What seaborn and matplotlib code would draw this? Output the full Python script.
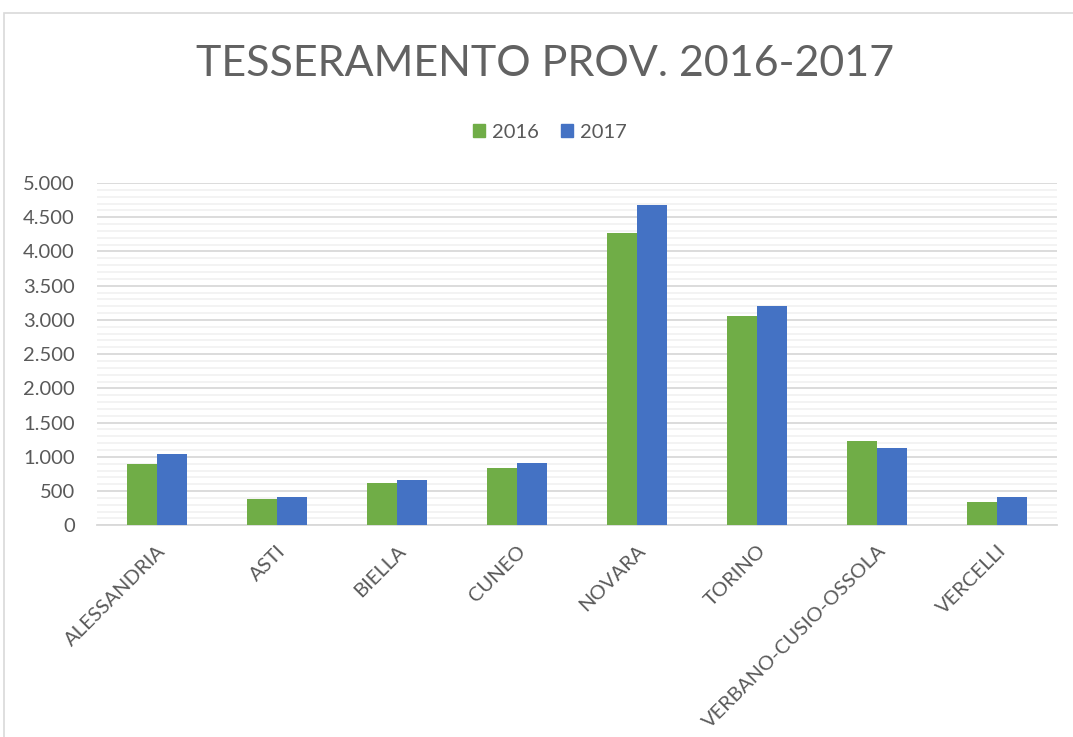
import matplotlib
matplotlib.use("Agg")
import matplotlib.pyplot as plt
import matplotlib.patches as mpatches
from matplotlib.ticker import MultipleLocator, FuncFormatter
import seaborn as sns
import pandas as pd

provinces = ["ALESSANDRIA", "ASTI", "BIELLA", "CUNEO", "NOVARA", "TORINO",
             "VERBANO-CUSIO-OSSOLA", "VERCELLI"]
values_2016 = [890, 380, 613, 832, 4276, 3059, 1226, 340]
values_2017 = [1040, 409, 657, 905, 4675, 3200, 1124, 417]
series = ["2016", "2017"]
colors = ["#70AD47", "#4472C4"]
title = "TESSERAMENTO PROV. 2016-2017"

df = pd.DataFrame({
    "Provincia": provinces * 2,
    "Anno": [series[0]] * len(provinces) + [series[1]] * len(provinces),
    "Valore": values_2016 + values_2017,
})

sns.set_theme(style="white")
plt.rcParams['font.family'] = ['Lato', 'DejaVu Sans']

text_color = "#595959"
fig = plt.figure(figsize=(10.73, 7.37), dpi=100)
ax = fig.add_axes([97 / 1073, 1 - 525.3 / 737, (1057 - 97) / 1073, (525.3 - 183) / 737])

sns.barplot(data=df, x="Provincia", y="Valore", hue="Anno", palette=colors,
            width=0.5, saturation=1, linewidth=0, ax=ax, legend=False, zorder=3)

ax.set_ylim(0, 5000)
ax.set_xlim(-0.5, len(provinces) - 0.5)
ax.yaxis.set_major_locator(MultipleLocator(500))
ax.yaxis.set_minor_locator(MultipleLocator(100))
ax.yaxis.set_major_formatter(FuncFormatter(lambda v, p: f"{int(v):,}".replace(",", ".")))
ax.grid(axis="y", which="major", color="#d9d9d9", linewidth=1.3, zorder=1)
ax.grid(axis="y", which="minor", color="#f2f2f2", linewidth=1.3, zorder=0)
ax.set_axisbelow(True)
for s in ["top", "right", "left"]:
    ax.spines[s].set_visible(False)
ax.spines["bottom"].set_color("#d9d9d9")
ax.spines["bottom"].set_linewidth(1.3)
ax.set_xlabel("")
ax.set_ylabel("")
ax.tick_params(axis="y", which="both", length=0, pad=16, labelsize=14.5, labelcolor=text_color)
ax.tick_params(axis="x", length=0, pad=12, labelsize=14.5, labelcolor=text_color)
for lbl in ax.get_xticklabels():
    lbl.set_rotation(45)
    lbl.set_ha("right")
    lbl.set_va("top")
    lbl.set_rotation_mode("anchor")

fig.text(545.5 / 1073, 1 - 64 / 737, title, ha="center", va="center", fontsize=31,
         color="#626262", fontweight="normal")

handles = [mpatches.Patch(color=c, label=s) for c, s in zip(colors, series)]
fig.legend(handles=handles, loc="center", bbox_to_anchor=(550 / 1073, 1 - 132 / 737),
           ncol=2, frameon=False, fontsize=14.5, labelcolor=text_color,
           handlelength=0.6, handleheight=0.6, handletextpad=0.35, columnspacing=1.1)

frame = mpatches.Rectangle((3.5 / 1073, -0.1), 1.2, 1 - 12.5 / 737 + 0.1,
                           transform=fig.transFigure, fill=False,
                           edgecolor="#d9d9d9", linewidth=1.2)
fig.patches.append(frame)

fig.savefig("out.png", dpi=100, facecolor="white")
